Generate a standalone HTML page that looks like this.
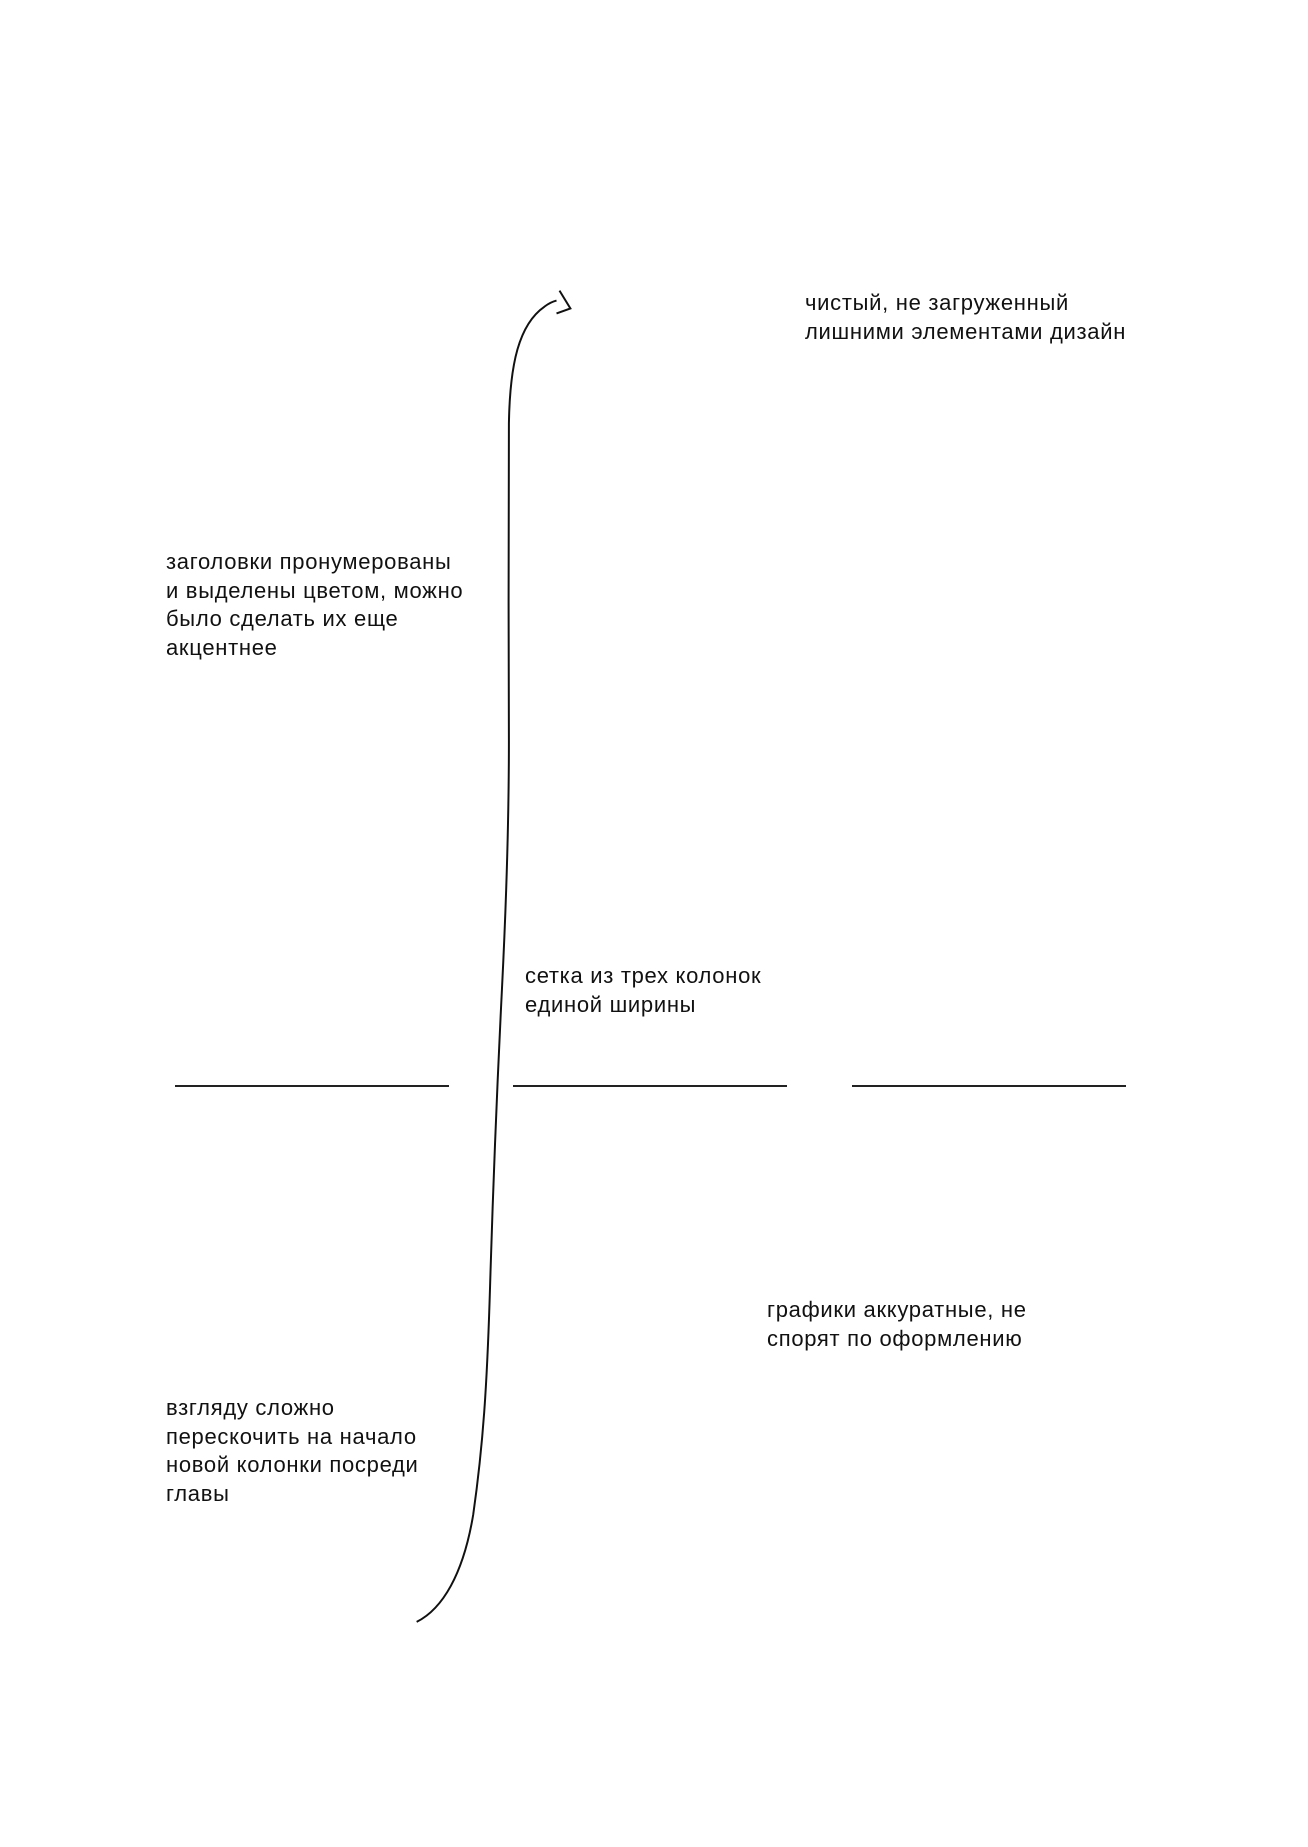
<!DOCTYPE html>
<html><head><meta charset="utf-8"><style>
html,body{margin:0;padding:0;background:#fff}
body{width:1308px;height:1847px;position:relative;overflow:hidden;font-family:"Liberation Sans","DejaVu Sans",sans-serif;color:#111}
.t{position:absolute;font-size:22px;line-height:28.5px;letter-spacing:0.7px;white-space:nowrap}
.l{position:absolute;height:2px;background:#222;top:1085px}
</style></head><body>
<svg width="1308" height="1847" style="position:absolute;left:0;top:0">
<g transform="translate(1,-3) scale(0.992)">
<path d="M419,1638 C445,1625 466,1590 476,1530 C486,1460 490,1400 493,1300 C496,1200 500,1100 505,1000 C510,900 512,820 512,750 C512,650 511,520 512,430 C513,370 522,330 548,312 C552,309 556,307 560,306" fill="none" stroke="#111" stroke-width="2"/>
<path d="M563,296 L574,314 L560,319" fill="none" stroke="#111" stroke-width="2"/>
</g>
</svg>
<div class="t" style="left:805px;top:289px">чистый, не загруженный<br>лишними элементами дизайн</div>
<div class="t" style="left:166px;top:548px">заголовки пронумерованы<br>и выделены цветом, можно<br>было сделать их еще<br>акцентнее</div>
<div class="t" style="left:525px;top:962px">сетка из трех колонок<br>единой ширины</div>
<div class="t" style="left:767px;top:1296px">графики аккуратные, не<br>спорят по оформлению</div>
<div class="t" style="left:166px;top:1394px">взгляду сложно<br>перескочить на начало<br>новой колонки посреди<br>главы</div>
<div class="l" style="left:175px;width:274px"></div>
<div class="l" style="left:513px;width:274px"></div>
<div class="l" style="left:852px;width:274px"></div>
</body></html>
